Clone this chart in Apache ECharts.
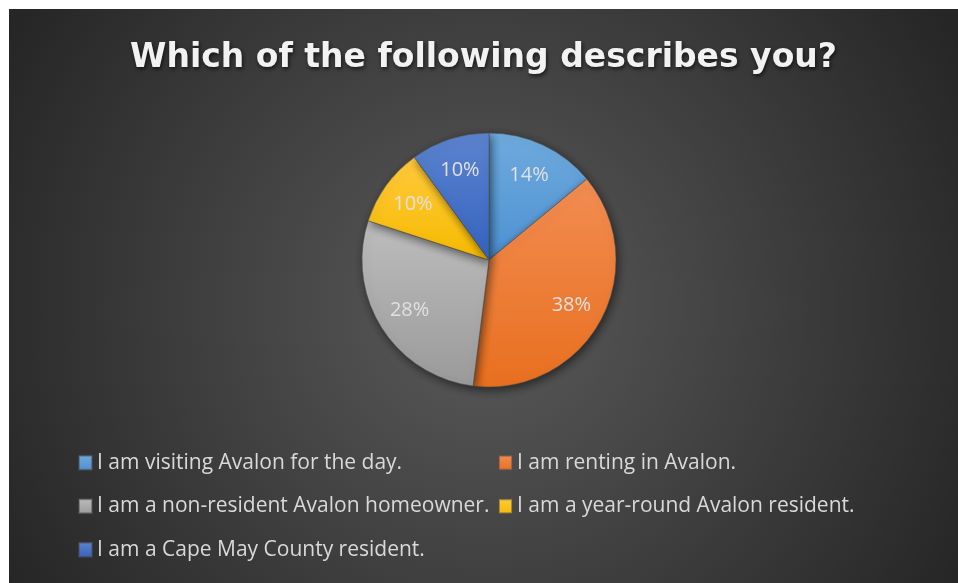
<!DOCTYPE html>
<html>
<head>
<meta charset="utf-8">
<style>
  html, body { margin: 0; padding: 0; background: #fff; }
  #chart { position: absolute; left: 9px; top: 9px; width: 949px; height: 574px; }
</style>
<script src="https://cdn.jsdelivr.net/npm/echarts@6/dist/echarts.min.js"></script>
</head>
<body>
<div id="chart"></div>
<script>
const TITLE = 'Which of the following describes you?'
const CATEGORIES = [
  'I am visiting Avalon for the day.',
  'I am renting in Avalon.',
  'I am a non-resident Avalon homeowner.',
  'I am a year-round Avalon resident.',
  'I am a Cape May County resident.',
]
const VALUES = [14, 38, 28, 10, 10]

// office-like shades, top -> bottom of each slice
const SHADES = [
  ['#6faadd', '#4d91d2'],
  ['#f28d52', '#e86f1f'],
  ['#bdbdbd', '#9a9a9a'],
  ['#ffc93d', '#f6bb00'],
  ['#5c84ce', '#3462bf'],
]

const grad = (s) => new echarts.graphic.LinearGradient(0, 0, 0, 1, [
  { offset: 0, color: s[0] },
  { offset: 1, color: s[1] },
])

const pieData = CATEGORIES.map((name, i) => ({
  name,
  value: VALUES[i],
  itemStyle: { color: grad(SHADES[i]) },
}))

const labelData = CATEGORIES.map((name, i) => ({ name, value: VALUES[i] }))

const chart = echarts.init(document.getElementById('chart'))
chart.setOption({
  backgroundColor: new echarts.graphic.RadialGradient(0.5, 0.52, 0.95, [
    { offset: 0, color: '#5a5a5a' },
    { offset: 1, color: '#262626' },
  ]),
  title: {
    text: TITLE,
    left: 'center',
    top: 28,
    textStyle: {
      color: '#f2f2f2',
      fontFamily: 'DejaVu Sans',
      fontWeight: 'bold',
      fontSize: 33,
      textShadowColor: 'rgba(0,0,0,0.7)',
      textShadowBlur: 4,
      textShadowOffsetX: 1,
      textShadowOffsetY: 2,
    },
  },
  legend: {
    orient: 'horizontal',
    left: 69,
    top: 432,
    width: 860,
    padding: 0,
    itemGap: 0,
    itemWidth: 13,
    itemHeight: 14,
    icon: 'rect',
    data: CATEGORIES.map((name, i) => ({ name, itemStyle: { color: grad(SHADES[i]) } })),
    textStyle: {
      color: '#d9d9d9',
      fontFamily: 'Open Sans',
      fontSize: 21,
      width: 401,
      lineHeight: 43.5,
    },
  },
  series: [
    {
      type: 'pie',
      center: [480, 251],
      radius: [0, 127],
      startAngle: 90,
      clockwise: true,
      label: { show: false },
      labelLine: { show: false },
      emphasis: { disabled: true },
      itemStyle: {
        borderColor: 'rgba(80,80,80,0.5)',
        borderWidth: 0.6,
        shadowColor: 'rgba(0,0,0,0.55)',
        shadowBlur: 10,
        shadowOffsetX: 2,
        shadowOffsetY: 3,
      },
      data: pieData,
    },
    {
      type: 'pie',
      silent: true,
      center: [480, 251],
      radius: [55, 127],
      startAngle: 90,
      clockwise: true,
      itemStyle: { color: 'rgba(0,0,0,0)' },
      labelLine: { show: false },
      label: {
        show: true,
        position: 'inside',
        formatter: '{c}%',
        color: '#e0e0e0',
        fontFamily: 'Open Sans',
        fontSize: 20,
      },
      data: labelData,
    },
  ],
})
</script>
</body>
</html>
